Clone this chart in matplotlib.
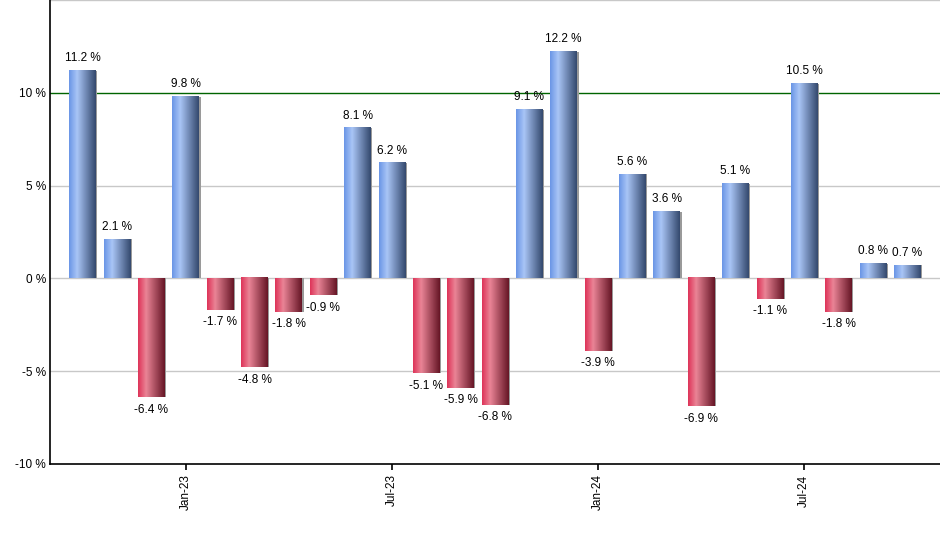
import numpy as np
import matplotlib.pyplot as plt
from matplotlib.colors import LinearSegmentedColormap

months = ["Oct-22", "Nov-22", "Dec-22", "Jan-23", "Feb-23", "Mar-23", "Apr-23", "May-23",
          "Jun-23", "Jul-23", "Aug-23", "Sep-23", "Oct-23", "Nov-23", "Dec-23", "Jan-24",
          "Feb-24", "Mar-24", "Apr-24", "May-24", "Jun-24", "Jul-24", "Aug-24", "Sep-24",
          "Oct-24"]
returns = [11.2, 2.1, -6.4, 9.8, -1.7, -4.8, -1.8, -0.9, 8.1, 6.2, -5.1, -5.9, -6.8,
           9.1, 12.2, -3.9, 5.6, 3.6, -6.9, 5.1, -1.1, 10.5, -1.8, 0.8, 0.7]
tick_labels = ["Jan-23", "Jul-23", "Jan-24", "Jul-24"]

plt.rcParams['font.family'] = ['Liberation Sans', 'DejaVu Sans']

blue = LinearSegmentedColormap.from_list("b", [(0, "#6b96e6"), (0.3, "#a9c5f6"), (1, "#34496e")])
red = LinearSegmentedColormap.from_list("r", [(0, "#de3459"), (0.3, "#ea8496"), (1, "#661626")])
grad = np.linspace(0, 1, 64).reshape(1, -1)

fig = plt.figure(figsize=(9.4, 5.5), dpi=100)
ax = fig.add_axes([50 / 940, 86 / 550, 890 / 940, 464 / 550])

x = np.arange(len(returns))
w = 0.78
for xi, v in zip(x, returns):
    cm = blue if v >= 0 else red
    # thin shadow on the right
    ax.add_patch(plt.Rectangle((xi - w / 2 + 0.04, 0), w, v, color="#9a9a9a", zorder=2, lw=0))
    ax.imshow(grad, cmap=cm, extent=(xi - w / 2, xi + w / 2, 0, v), aspect="auto",
              zorder=3, interpolation="bilinear")
    if v >= 0:
        ax.text(xi, v + 0.35, f"{v} %", ha="center", va="bottom", fontsize=8.5)
    else:
        ax.text(xi, v - 0.35, f"{v} %", ha="center", va="top", fontsize=8.5)

for gy in [15, 5, 0, -5]:
    ax.axhline(gy, color="#c8c8c8", lw=1, zorder=1)
ax.axhline(10, color="#006400", lw=1, zorder=1)

ax.set_xlim(-0.95, 24.95)
ax.set_ylim(-10, 15)
ax.set_yticks([-10, -5, 0, 5, 10])
ax.set_yticklabels(["-10 %", "-5 %", "0 %", "5 %", "10 %"], fontsize=8.5)
ax.tick_params(axis="y", length=0, pad=3)
ax.set_xticks([months.index(t) for t in tick_labels])
ax.set_xticklabels(tick_labels, rotation=90, fontsize=8.5)
ax.tick_params(axis="x", length=4, width=1.2)
for s in ["top", "right"]:
    ax.spines[s].set_visible(False)
ax.spines["left"].set_linewidth(1.2)
ax.spines["bottom"].set_linewidth(1.2)

fig.savefig("out.png", dpi=100)
